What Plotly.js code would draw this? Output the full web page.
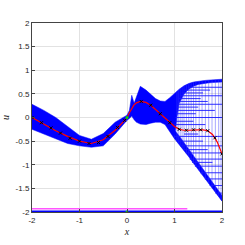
<!DOCTYPE html>
<html><head><meta charset="utf-8">
<script src="https://cdn.plot.ly/plotly-3.0.1.min.js"></script>
<style>html,body{margin:0;padding:0;background:#fff}#c{width:245px;height:245px}</style>
</head><body><div id="c"></div>
<script>
// sample x positions
const xs = [-2,-1.75,-1.5,-1.25,-1,-0.75,-0.5,-0.25,0,0.05,0.1,0.15,0.2,0.28,0.4,0.5,0.6,0.7,0.8,0.9,1.0,1.1,1.2,1.3,1.4,1.5,1.6,1.7,1.8,1.9,2.0];
// upper envelope of the sample bundle
const upper = [0.28,0.15,0.0,-0.2,-0.38,-0.46,-0.34,-0.1,0.05,0.15,0.47,0.3,0.45,0.66,0.58,0.48,0.4,0.35,0.34,0.42,0.52,0.6,0.67,0.72,0.75,0.77,0.78,0.79,0.8,0.8,0.81];
// lower envelope of the sample bundle
const lower = [-0.25,-0.35,-0.45,-0.55,-0.6,-0.63,-0.6,-0.35,-0.06,-0.02,0.03,-0.05,-0.1,-0.14,-0.15,-0.12,-0.1,-0.1,-0.15,-0.3,-0.45,-0.57,-0.7,-0.83,-0.97,-1.1,-1.24,-1.37,-1.5,-1.64,-1.77];
// posterior mean
const mean = [0.0,-0.14,-0.28,-0.4,-0.5,-0.55,-0.47,-0.27,-0.01,0.1,0.2,0.27,0.31,0.34,0.32,0.26,0.17,0.08,-0.02,-0.11,-0.19,-0.25,-0.27,-0.27,-0.26,-0.26,-0.26,-0.28,-0.36,-0.52,-0.77];
// right part: inner edge of top band, inner edge of bottom band
const xr = [1.0,1.05,1.1,1.2,1.3,1.4,1.5,1.6,1.7,1.8,1.9,2.0];
const topInner = [-0.45,0.0,0.3,0.5,0.6,0.66,0.7,0.72,0.73,0.74,0.75,0.75];
const lowInner = [-0.27,-0.33,-0.39,-0.52,-0.65,-0.79,-0.93,-1.08,-1.22,-1.36,-1.51,-1.65];
// horizontal stair segments: level, start, end
const hY  = [0.64,0.58,0.52,0.46,0.40,0.34,0.28,0.22,0.15,0.08,0.0,-0.08,-0.15,-0.35,-0.4,-0.5,-0.6,-0.68,-0.75,-0.88,-0.95,-1.03,-1.17,-1.3,-1.44,-1.6];
const hX0 = [1.28,1.2,1.15,1.12,1.1,1.08,1.06,1.05,1.04,1.03,1.02,1.02,1.0,1.2,1.0,1.08,1.12,1.2,1.24,1.32,1.37,1.43,1.54,1.64,1.74,1.86];
const hX1 = [2.0,1.75,1.6,2.0,1.55,1.7,2.0,1.5,1.85,1.45,2.0,1.4,1.65,1.5,2.0,1.6,2.0,1.7,2.0,2.0,1.8,2.0,2.0,2.0,2.0,2.0];
// vertical stair segments
const vX = [1.05,1.08,1.12,1.16,1.2,1.25,1.3,1.35,1.4,1.45,1.52,1.58,1.65,1.72,1.79,1.86,1.93,1.98];
// training points
const ptX = [-2,-1.8,-1.6,-1.4,-1.2,-1.0,-0.8,-0.6,-0.4,-0.2,-0.05,0.3,0.5,0.7,0.9,1.1,1.25,1.4,1.55,1.7,1.85,2.0];
const ptY = [0.0,-0.11,-0.22,-0.33,-0.44,-0.5,-0.55,-0.53,-0.4,-0.21,-0.06,0.34,0.26,0.08,-0.11,-0.25,-0.27,-0.26,-0.26,-0.28,-0.43,-0.77];
const greenX = [0,0];
const greenY = [0.0,-2];
const magentaX = [-2,1.27];
const magentaY = [-1.93,-1.93];

function interp(xa, ya, x){
  for(let i=0;i<xa.length-1;i++){ if(x>=xa[i]&&x<=xa[i+1]){const t=(x-xa[i])/(xa[i+1]-xa[i]);return ya[i]+t*(ya[i+1]-ya[i]);} }
  return ya[ya.length-1];
}
// main band polygon
const polyX=[], polyY=[];
xs.forEach((x,i)=>{polyX.push(x);polyY.push(upper[i]);});
for(let i=xr.length-1;i>=0;i--){polyX.push(xr[i]);polyY.push(topInner[i]);}
for(let i=xs.length-1;i>=0;i--){ if(xs[i]<1.0){polyX.push(xs[i]);polyY.push(lower[i]);} }
// lower band polygon
const lbX=[], lbY=[];
xr.forEach((x)=>{lbX.push(x);lbY.push(interp(xs,lower,x));});
for(let i=xr.length-1;i>=0;i--){lbX.push(xr[i]);lbY.push(lowInner[i]);}
// horizontal segments
const hx=[], hy=[];
hY.forEach((y,i)=>{hx.push(hX0[i],hX1[i],null);hy.push(y,y,null);});
const vx=[], vy=[];
vX.forEach(x=>{vx.push(x,x,null);vy.push(interp(xs,lower,x),interp(xs,upper,x),null);});

const traces=[
 {x:polyX,y:polyY,fill:'toself',fillcolor:'#0000ff',line:{color:'#0000ff',width:0.5},mode:'lines',hoverinfo:'skip'},
 {x:lbX,y:lbY,fill:'toself',fillcolor:'#0000ff',line:{color:'#0000ff',width:0.5},mode:'lines'},
 {x:vx,y:vy,mode:'lines',line:{color:'rgba(60,60,255,0.45)',width:1}},
 {x:hx,y:hy,mode:'lines',line:{color:'#1a1aff',width:0.9}},
 {x:xs,y:mean,mode:'lines',line:{color:'#ff0000',width:1.2}},
 {x:ptX,y:ptY,mode:'markers',marker:{symbol:'x-thin',size:3,color:'#000',line:{width:1,color:'#000'}}},
 {x:[-2,2],y:[-1.995,-1.995],mode:'lines',line:{color:'#0000ff',width:2.5}},
 {x:magentaX,y:magentaY,mode:'lines',line:{color:'#ff55ff',width:1.5}},
 {x:greenX,y:greenY,mode:'markers',marker:{color:'#00dd00',size:3}}
];
const ax={showline:true,mirror:true,linecolor:'#444',linewidth:1,ticks:'inside',ticklen:3,tickcolor:'#444',
  gridcolor:'#e2e2e2',zeroline:false,tickfont:{family:'Liberation Sans, Arial',size:8,color:'#262626'}};
const layout={width:245,height:245,margin:{l:32,r:23,t:23,b:33},showlegend:false,
  paper_bgcolor:'#fff',plot_bgcolor:'#fff',
  xaxis:Object.assign({},ax,{range:[-2,2],tickvals:[-2,-1,0,1,2],ticktext:['-2','-1','0','1','2'],
    title:{text:'<i>x</i>',font:{family:'Liberation Serif',size:10,color:'#262626'},standoff:4}}),
  yaxis:Object.assign({},ax,{range:[-2,2],tickvals:[-2,-1.5,-1,-0.5,0,0.5,1,1.5,2],ticktext:['-2','-1.5','-1','-0.5','0','0.5','1','1.5','2'],
    title:{text:'<i>u</i>',font:{family:'Liberation Serif',size:10,color:'#262626'},standoff:4}})
};
Plotly.newPlot('c',traces,layout,{staticPlot:true,displayModeBar:false});
</script></body></html>
